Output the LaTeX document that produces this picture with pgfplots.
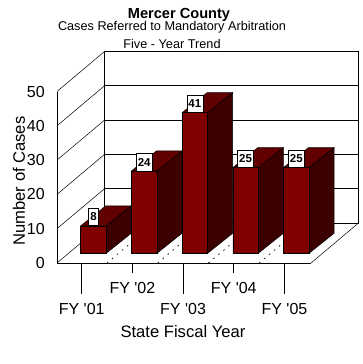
\documentclass[border=0pt]{standalone}
\usepackage{pgfplots}
\pgfplotsset{compat=1.18}
\usepackage{fontspec}
\newfontfamily\lab{Liberation Sans}
\definecolor{barfront}{HTML}{800000}
\definecolor{bartop}{HTML}{600000}
\definecolor{barside}{HTML}{3C0000}
\begin{document}
\lab
\begin{tikzpicture}[x=1pt,y=1pt]
\path[use as bounding box] (0,0) rectangle (362,364);
\begin{axis}[
  at={(57pt,101pt)},anchor=south west,
  scale only axis,width=254pt,height=171.5pt,
  xmin=-0.487,xmax=4.523,ymin=0,ymax=50,
  clip=false,
  axis lines*=left,axis line style={-,line width=0.7pt,black},
  /pgf/number format/assume math mode=true,
  tick align=outside,
  major tick length=31pt,
  xtick={0,2,4},xticklabels={FY '01,FY '03,FY '05},
  extra x ticks={1,3},extra x tick labels={FY '02,FY '04},
  extra x tick style={major tick length=9.7pt,tick style={line width=0.7pt,black}},
  xtick style={line width=0.7pt,black},
  ytick={0,10,20,30,40,50},
  ytick style={draw=none},
  tick label style={font=\lab\fontsize{16}{16}\selectfont},
  xticklabel style={inner sep=2pt,yshift=-7pt},
  yticklabel style={xshift=20pt,inner sep=1pt},
  xlabel={State Fiscal Year},ylabel={Number of Cases},
  label style={font=\lab\fontsize{16.6}{16.6}\selectfont},
  xlabel style={at={(axis description cs:0.496,-0.402)},anchor=center},
  ylabel style={at={(axis description cs:-0.15,0.478)},anchor=center},
]
% walls
\addplot[black,line width=0.7pt] coordinates {(0.45,11.66)(0.45,61.66)(5.46,61.66)(5.46,11.66)(0.45,11.66)};
\addplot[black,line width=0.7pt] coordinates {(0.45,21.66)(5.46,21.66)};
\addplot[black,line width=0.7pt] coordinates {(0.45,31.66)(5.46,31.66)};
\addplot[black,line width=0.7pt] coordinates {(0.45,41.66)(5.46,41.66)};
\addplot[black,line width=0.7pt] coordinates {(0.45,51.66)(5.46,51.66)};
\addplot[black,line width=0.5pt] coordinates {(-0.487,0)(0.45,11.66)};
\addplot[black,line width=0.5pt] coordinates {(-0.487,10)(0.45,21.66)};
\addplot[black,line width=0.5pt] coordinates {(-0.487,20)(0.45,31.66)};
\addplot[black,line width=0.5pt] coordinates {(-0.487,30)(0.45,41.66)};
\addplot[black,line width=0.5pt] coordinates {(-0.487,40)(0.45,51.66)};
\addplot[black,line width=0.5pt] coordinates {(-0.487,50)(0.45,61.66)};
\addplot[black,line width=0.5pt] coordinates {(4.523,0)(5.46,11.66)};
% floor dots
\addplot[black,line width=0.7pt,dash pattern=on 1.5pt off 5pt] coordinates {(0.5,0)(1.437,11.66)};
\addplot[black,line width=0.7pt,dash pattern=on 1.5pt off 5pt] coordinates {(1.5,0)(2.437,11.66)};
\addplot[black,line width=0.7pt,dash pattern=on 1.5pt off 5pt] coordinates {(2.5,0)(3.437,11.66)};
\addplot[black,line width=0.7pt,dash pattern=on 1.5pt off 5pt] coordinates {(3.5,0)(4.437,11.66)};
\end{axis}
\begin{axis}[
  at={(68.8pt,110.7pt)},anchor=south west,
  scale only axis,width=254pt,height=171.5pt,
  xmin=-0.487,xmax=4.523,ymin=0,ymax=50,
  clip=false,axis lines=none,
]
% side faces
\addplot[fill=barside,draw=black,line width=0.5pt] coordinates {(0.2515,0)(0.7445,5.83)(0.7445,13.83)(0.2515,8)} --cycle;
\addplot[fill=bartop,draw=black,line width=0.5pt] coordinates {(-0.2515,8)(0.2515,8)(0.7445,13.83)(0.2415,13.83)} --cycle;
\addplot[fill=barside,draw=black,line width=0.5pt] coordinates {(1.2515,0)(1.7445,5.83)(1.7445,29.83)(1.2515,24)} --cycle;
\addplot[fill=bartop,draw=black,line width=0.5pt] coordinates {(0.7485,24)(1.2515,24)(1.7445,29.83)(1.2415,29.83)} --cycle;
\addplot[fill=barside,draw=black,line width=0.5pt] coordinates {(2.2515,0)(2.7445,5.83)(2.7445,46.83)(2.2515,41)} --cycle;
\addplot[fill=bartop,draw=black,line width=0.5pt] coordinates {(1.7485,41)(2.2515,41)(2.7445,46.83)(2.2415,46.83)} --cycle;
\addplot[fill=barside,draw=black,line width=0.5pt] coordinates {(3.2515,0)(3.7445,5.83)(3.7445,30.83)(3.2515,25)} --cycle;
\addplot[fill=bartop,draw=black,line width=0.5pt] coordinates {(2.7485,25)(3.2515,25)(3.7445,30.83)(3.2415,30.83)} --cycle;
\addplot[fill=barside,draw=black,line width=0.5pt] coordinates {(4.2515,0)(4.7445,5.83)(4.7445,30.83)(4.2515,25)} --cycle;
\addplot[fill=bartop,draw=black,line width=0.5pt] coordinates {(3.7485,25)(4.2515,25)(4.7445,30.83)(4.2415,30.83)} --cycle;
% front faces
\addplot[ybar,bar width=25.5pt,fill=barfront,draw=black,line width=0.5pt,
  nodes near coords,
  every node near coord/.append style={font=\lab\bfseries\fontsize{11.5}{11.5}\selectfont,
    fill=white,draw=black,line width=0.4pt,text=black,anchor=south,
    inner xsep=1.7pt,inner ysep=0pt,minimum height=17.5pt,yshift=0pt,
    /pgf/number format/assume math mode=true},
] coordinates {(0,8)(1,24)(2,41)(3,25)(4,25)};
\end{axis}
\node[font=\lab\bfseries\fontsize{14.6}{14.6}\selectfont] at (179,349.5) {Mercer County};
\node[font=\lab\fontsize{12.7}{12.7}\selectfont] at (172,336.5) {Cases Referred to Mandatory Arbitration};
\node[font=\lab\fontsize{12.7}{12.7}\selectfont] at (172,320) {Five - Year Trend};
\end{tikzpicture}
\end{document}
